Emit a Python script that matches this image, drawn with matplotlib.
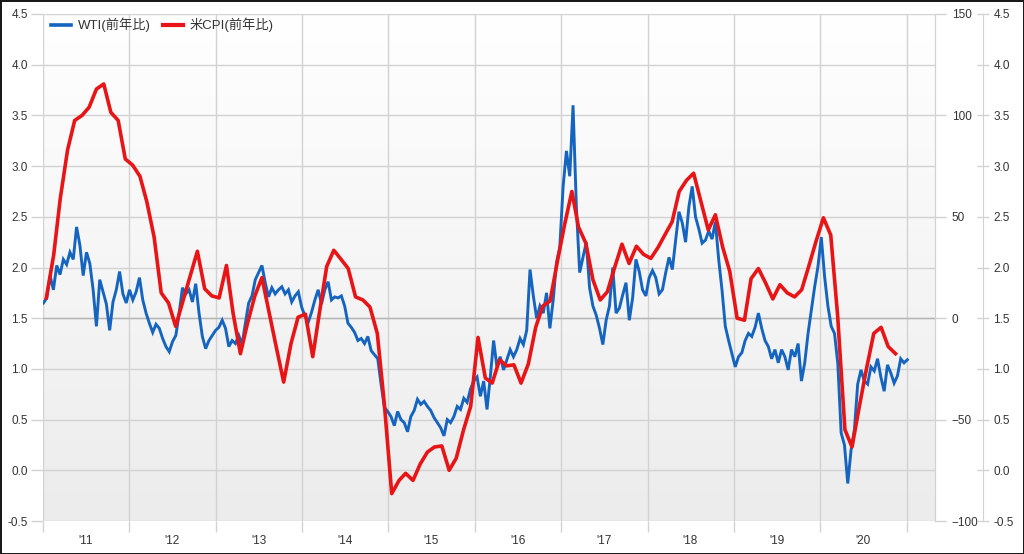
import numpy as np
import pandas as pd
import matplotlib
matplotlib.use("Agg")
import matplotlib.pyplot as plt
import matplotlib.dates as mdates
from matplotlib.colors import LinearSegmentedColormap
from matplotlib.lines import Line2D

plt.rcParams['font.family'] = ['Liberation Sans', 'Noto Sans CJK JP', 'DejaVu Sans']

# US CPI, % y/y (left scale), monthly Jan 2011 - Nov 2020
cpi_2011 = [1.70, 2.12, 2.68, 3.16, 3.45, 3.50, 3.58, 3.76, 3.81, 3.53, 3.45, 3.07]
cpi_2012 = [3.01, 2.90, 2.65, 2.30, 1.75, 1.65, 1.42, 1.67, 1.92, 2.16, 1.79, 1.72]
cpi_2013 = [1.70, 2.02, 1.55, 1.15, 1.45, 1.72, 1.90, 1.55, 1.20, 0.87, 1.25, 1.51]
cpi_2014 = [1.54, 1.12, 1.55, 2.01, 2.17, 2.08, 1.99, 1.71, 1.68, 1.61, 1.35, 0.65]
cpi_2015 = [-0.23, -0.10, -0.03, -0.10, 0.06, 0.18, 0.23, 0.24, 0.00, 0.12, 0.40, 0.63]
cpi_2016 = [1.31, 0.91, 0.86, 1.09, 1.03, 1.04, 0.86, 1.05, 1.41, 1.62, 1.67, 2.05]
cpi_2017 = [2.42, 2.75, 2.40, 2.24, 1.88, 1.68, 1.76, 2.00, 2.23, 2.04, 2.21, 2.13]
cpi_2018 = [2.09, 2.20, 2.32, 2.45, 2.75, 2.86, 2.93, 2.65, 2.37, 2.52, 2.20, 1.96]
cpi_2019 = [1.50, 1.48, 1.89, 1.99, 1.85, 1.69, 1.83, 1.75, 1.71, 1.78, 2.02, 2.26]
cpi_2020 = [2.49, 2.32, 1.53, 0.40, 0.23, 0.63, 1.00, 1.35, 1.41, 1.22, 1.15]
cpi = (cpi_2011 + cpi_2012 + cpi_2013 + cpi_2014 + cpi_2015 + cpi_2016
       + cpi_2017 + cpi_2018 + cpi_2019 + cpi_2020)

# WTI, % y/y (middle scale), every 14 days from 2011-01-03
wti = [
    7.5, 10, 21, 14, 26, 21.5, 29, 26.5, 32.5, 29, 45, 36, 21, 32.5, 27, 14, -4, 19, 13, 7,
    -6, 8, 14, 23, 12, 7.5, 14, 9, 13, 20, 9, 2.5, -2.5, -7, -3, -5, -10, -14, -16.5, -11.5,
    -8.5, 2.5, 15, 12, 14, 8, 17, 2.5, -9, -15, -11, -8.5, -6, -4.5, -1, -5, -14, -11, -12.5, -8.5,
    -13, -2.5, 7.5, 11, 19, 22.5, 26, 17.5, 10.5, 15, 12, 14, 15.5, 12, 14, 8, 11, 13, 5.5, 1,
    -2, 3, 9, 14, 7, 14, 18, 9, 10.5, 10, 11, 6, -2.5, -4.5, -7, -11, -10, -12.5, -9, -16,
    -18, -20, -32.5, -44, -46, -48.5, -53, -46, -50, -51.5, -56, -48.5, -45.5, -40, -42.5, -41, -43.5, -45.5, -49, -51.5,
    -54, -58, -50, -51.5, -48.5, -43.5, -45, -39.5, -41.5, -35, -31, -29, -38.5, -31, -45, -29, -11, -24, -19, -25.5,
    -20.5, -15.5, -19, -15.5, -10, -13, -6, 24, 11, 0, 6, 2.5, 12.5, -5, 9, 27.5, 35, 65, 82.5, 70,
    105, 55, 22.5, 30, 37.5, 15, 6, 1.5, -5, -13, -1, 6, 25, 2.5, 5, 11.5, 17.5, -1, 10, 29,
    23, 14, 11, 20, 23.5, 20, 12, 14, 22.5, 30, 24, 38.5, 52.5, 47, 37.5, 55, 65, 50, 44, 37,
    38.5, 43, 39, 47.5, 29, 14, -4, -11, -17.5, -24, -19, -17, -11, -7.5, -9, -4.5, 2.5, -5, -11, -14,
    -20, -15.5, -22, -15.5, -19, -25.5, -15.5, -19, -12.5, -31, -22, -7.5, 4, 15.5, 25.5, 40, 20.5, 6, -4, -7.5,
    -22.5, -56.5, -62.5, -81.5, -65, -55, -32.5, -25.5, -31, -32.5, -24, -26, -20, -29, -36, -23, -27, -32, -28.5, -20,
    -22, -20.5,
]

year_labels = ["'11", "'12", "'13", "'14", "'15", "'16", "'17", "'18", "'19", "'20"]

cpi_dates = pd.date_range('2011-01-01', periods=len(cpi), freq='MS') + pd.Timedelta(days=14)
wti_dates = pd.date_range('2011-01-03', periods=len(wti), freq='14D')

BLUE = '#1565c0'
RED = '#e81416'
GRID = '#d2d2d2'
TXT = '#333333'
FS = 8.5

fig = plt.figure(figsize=(10.24, 5.54), dpi=100)
fig.patch.set_facecolor('white')
fig.patch.set_edgecolor('#1a1a1a')
fig.patch.set_linewidth(2)

ax = fig.add_axes([43 / 1024, 33 / 554, 892 / 1024, 507 / 554])
ax2 = ax.twinx()
ax3 = ax.twinx()

# background gradient
cmap = LinearSegmentedColormap.from_list('bg', ['#ececec', '#ffffff'])
ax.imshow(np.linspace(0, 1, 256).reshape(-1, 1), cmap=cmap, aspect='auto',
          extent=[0, 1, 0, 1], transform=ax.transAxes, zorder=0, origin='lower')

x0 = pd.Timestamp('2011-01-01')
x1 = pd.Timestamp('2021-05-01')

# left axis (CPI scale) with grid
ax.set_xlim(x0, x1)
ax.set_ylim(-0.5, 4.5)
ax.set_yticks(np.arange(-0.5, 4.51, 0.5))
ax.set_yticklabels([f'{v:.1f}' for v in np.arange(-0.5, 4.51, 0.5)])
ax.grid(True, axis='both', color=GRID, linewidth=1)
ax.axhline(1.5, color='#b4b4b4', linewidth=1, zorder=1)
ax.set_axisbelow(True)

ax.xaxis.set_major_locator(mdates.YearLocator())
ax.xaxis.set_major_formatter(plt.NullFormatter())
ax.set_xticks([pd.Timestamp(f'{y}-07-01') for y in range(2011, 2021)], minor=True)
ax.set_xticklabels(year_labels, minor=True)
ax.tick_params(axis='x', which='major', length=8, color=GRID, width=1)
ax.tick_params(axis='x', which='minor', length=0, pad=10, labelsize=FS, labelcolor=TXT)
ax.tick_params(axis='y', length=9, color=GRID, width=1, pad=2, labelsize=FS, labelcolor=TXT)
for s in ['top', 'left', 'bottom']:
    ax.spines[s].set_visible(False)
ax.spines['right'].set_color(GRID)

# middle axis (WTI scale)
ax2.plot(wti_dates, wti, color=BLUE, linewidth=2.1, solid_joinstyle='miter')
ax2.set_ylim(-100, 150)
ax2.set_yticks([-100, -50, 0, 50, 100, 150])
ax2.tick_params(axis='y', length=8, color=GRID, width=1, pad=4, labelsize=FS, labelcolor=TXT)
for s in ['top', 'left', 'bottom']:
    ax2.spines[s].set_visible(False)
ax2.spines['right'].set_color(GRID)

# far-right axis (CPI scale, repeated) holds the CPI line on top
ax3.plot(cpi_dates, cpi, color=RED, linewidth=2.6, solid_joinstyle='round')
ax3.set_ylim(-0.5, 4.5)
ax3.set_yticks(np.arange(-0.5, 4.51, 0.5))
ax3.set_yticklabels([f'{v:.1f}' for v in np.arange(-0.5, 4.51, 0.5)])
ax3.spines['right'].set_position(('axes', (983 - 43) / 892))
ax3.spines['right'].set_color(GRID)
for s in ['top', 'left', 'bottom']:
    ax3.spines[s].set_visible(False)
ax3.tick_params(axis='y', direction='inout', length=9, color=GRID, width=1, pad=3,
                labelsize=FS, labelcolor=TXT)
ax3.set_xlim(x0, x1)

handles = [Line2D([], [], color=BLUE, linewidth=2.6), Line2D([], [], color=RED, linewidth=3.0)]
ax3.legend(handles, ['WTI(前年比)', '米CPI(前年比)'], loc='upper left', bbox_to_anchor=(0.0, 1.008),
           ncol=2, frameon=False, fontsize=9.5, handlelength=1.5, handletextpad=0.55,
           columnspacing=0.9, borderaxespad=0.2, labelcolor=TXT)

fig.savefig('out.png', dpi=100)
